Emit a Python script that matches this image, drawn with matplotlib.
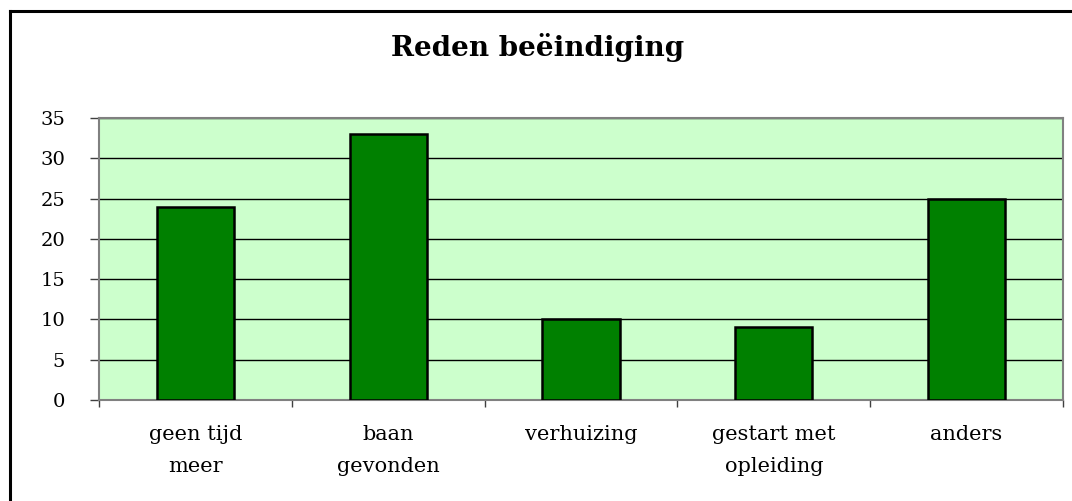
import matplotlib.pyplot as plt
from matplotlib.lines import Line2D
from matplotlib.ticker import FixedLocator, NullFormatter

categories = ['geen tijd\nmeer', 'baan\ngevonden', 'verhuizing', 'gestart met\nopleiding', 'anders']
values = [24, 33, 10, 9, 25]
yticks = [0, 5, 10, 15, 20, 25, 30, 35]

plt.rcParams['font.family'] = ['DejaVu Serif']

W, H = 1072, 501
fig = plt.figure(figsize=(W / 100, H / 100), dpi=100)

# outer chart frame (only top and left edges visible)
fig.add_artist(Line2D([10 / W, 1.0], [1 - 11 / H, 1 - 11 / H], color='black', lw=2.2,
                      transform=fig.transFigure))
fig.add_artist(Line2D([10 / W, 10 / W], [0.0, 1 - 11 / H], color='black', lw=2.2,
                      transform=fig.transFigure))

ax = fig.add_axes([99 / W, 1 - 400 / H, (1063 - 99) / W, (400 - 118) / H])
ax.set_facecolor('#CCFFCC')

x = list(range(len(categories)))
ax.bar(x, values, width=0.40, color='#008000', edgecolor='black', linewidth=1.8, zorder=3)

ax.set_xlim(-0.5, len(categories) - 0.5)
ax.set_ylim(0, 35)

ax.set_yticks(yticks)
ax.set_yticklabels([str(v) for v in yticks], fontsize=14)
ax.yaxis.grid(True, color='black', lw=1.0, zorder=1)
ax.set_axisbelow(True)

ax.set_xticks(x)
ax.set_xticklabels(categories, fontsize=15, linespacing=1.85)
ax.xaxis.set_minor_locator(FixedLocator([i + 0.5 for i in range(-1, len(categories))]))
ax.xaxis.set_minor_formatter(NullFormatter())
ax.tick_params(axis='x', which='major', length=0, pad=18)
ax.tick_params(axis='x', which='minor', length=5, width=1, color='#404040', direction='out')
ax.tick_params(axis='y', length=6.5, width=1, color='#404040', pad=18)

for s in ax.spines.values():
    s.set_color('#808080')
    s.set_linewidth(1.5)

fig.text(538 / W, 1 - 47 / H, 'Reden beëindiging', ha='center', va='center',
         fontsize=20, fontweight='bold')

fig.savefig('out.png', dpi=100)
